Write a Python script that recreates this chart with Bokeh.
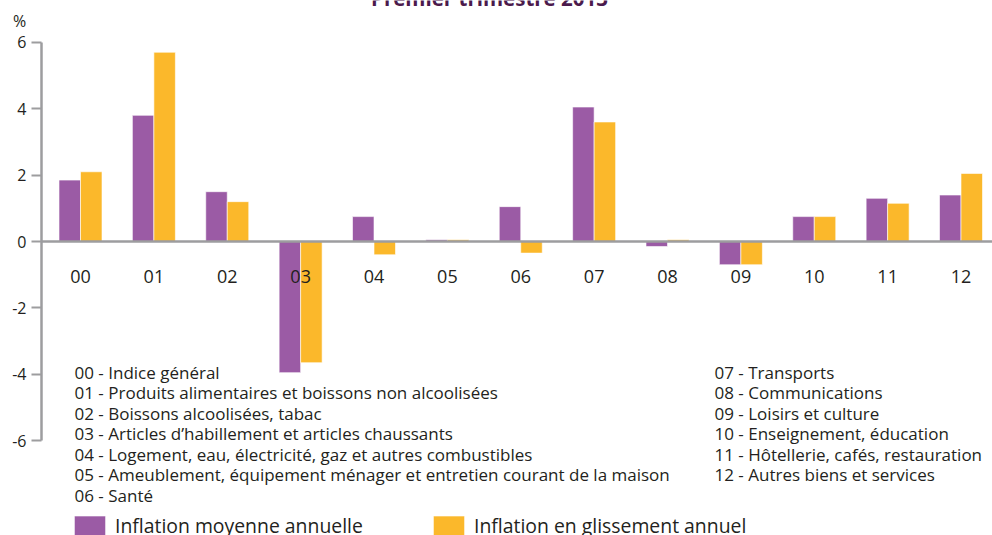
from bokeh.plotting import figure
from bokeh.models import (ColumnDataSource, Range1d, LinearAxis, FixedTicker,
                          Legend, LegendItem, Label)
from bokeh.transform import dodge
from bokeh.core.properties import value
from bokeh.embed import file_html
from bokeh.resources import INLINE

# ---------------- data ----------------
codes = ["00", "01", "02", "03", "04", "05", "06", "07", "08", "09", "10", "11", "12"]
moyenne = [1.85, 3.8, 1.5, -3.95, 0.75, 0.05, 1.05, 4.05, -0.15, -0.7, 0.75, 1.3, 1.4]
glissement = [2.1, 5.7, 1.2, -3.65, -0.4, 0.05, -0.35, 3.6, 0.05, -0.7, 0.75, 1.15, 2.05]
series_names = ["Inflation moyenne annuelle", "Inflation en glissement annuel"]
y_ticks = [-6, -4, -2, 0, 2, 4, 6]
y_tick_labels = ["-6", "-4", "-2", "0", "2", "4", "6"]
left_items = [
    "00 - Indice général",
    "01 - Produits alimentaires et boissons non alcoolisées",
    "02 - Boissons alcoolisées, tabac",
    "03 - Articles d\u2019habillement et articles chaussants",
    "04 - Logement, eau, électricité, gaz et autres combustibles",
    "05 - Ameublement, équipement ménager et entretien courant de la maison",
    "06 - Santé",
]
right_items = [
    "07 - Transports",
    "08 - Communications",
    "09 - Loisirs et culture",
    "10 - Enseignement, éducation",
    "11 - Hôtellerie, cafés, restauration",
    "12 - Autres biens et services",
]
title_text = "Premier trimestre 2013"
unit_text = "%"

# ---------------- style ----------------
PURPLE = "#9b5ba5"
ORANGE = "#fbb82b"
TEXT = "#231f20"
GREY = "#9d9d9f"
TITLE_COL = "#4b1a4c"
FONT = "Open Sans"

W, H = 992, 535
AXIS_X = 41  # pixel column of the vertical axis

# layout helpers (reference pixel -> data coordinate)
X0, XS = 80.0, 73.375
Y0, YS = 241.0, 33.2
def dx(sx):
    return (sx - X0) / XS
def dy(sy):
    return (Y0 - sy) / YS

BAR_W = 21.5 / XS

p = figure(width=W, height=H, output_backend="svg", toolbar_location=None,
           x_range=Range1d(dx(0), dx(W)), y_range=Range1d(dy(H), dy(0)),
           x_axis_location=None, y_axis_location=None,
           min_border_left=0, min_border_right=0, min_border_top=0, min_border_bottom=0,
           outline_line_color=None, background_fill_color="white", border_fill_color="white")
p.xgrid.visible = False
p.ygrid.visible = False

src = ColumnDataSource(dict(x=list(range(len(codes))), code=codes,
                            moy=moyenne, gli=glissement))

r1 = p.vbar(x=dodge("x", -BAR_W / 2), top="moy", bottom=0, width=BAR_W, source=src,
            fill_color=PURPLE, line_color="white", line_width=1, line_alpha=0.6)
r2 = p.vbar(x=dodge("x", BAR_W / 2), top="gli", bottom=0, width=BAR_W, source=src,
            fill_color=ORANGE, line_color="white", line_width=1, line_alpha=0.6)

# vertical value axis, fixed at the left edge of the bar area
yaxis = LinearAxis(ticker=FixedTicker(ticks=y_ticks), bounds=(-6, 6),
                   fixed_location=dx(AXIS_X),
                   major_label_overrides=dict(zip(y_ticks, y_tick_labels)),
                   axis_line_color=GREY, axis_line_width=2.5,
                   major_tick_line_color=GREY, major_tick_line_width=2,
                   major_tick_in=0, major_tick_out=10, minor_tick_line_color=None,
                   major_label_text_font=FONT, major_label_text_font_size="16px",
                   major_label_text_color=TEXT, major_label_standoff=5)
p.add_layout(yaxis, "left")

# horizontal zero axis
xaxis = LinearAxis(ticker=FixedTicker(ticks=[]), bounds=(dx(AXIS_X), dx(W)),
                   fixed_location=0, axis_line_color=GREY, axis_line_width=2.5,
                   major_tick_line_color=None, minor_tick_line_color=None,
                   major_label_text_font_size="0px")
p.add_layout(xaxis, "below")

# category labels
p.text(x="x", y=dy(276), text="code", source=src, text_font=value(FONT),
       text_font_size="18px", text_color=TEXT, text_align="center", text_baseline="middle")

# nomenclature lists
row_y = [dy(371.7 + 20.55 * k) for k in range(7)]
lsrc = ColumnDataSource(dict(x=[dx(74)] * len(left_items), y=row_y[:len(left_items)], t=left_items))
rsrc = ColumnDataSource(dict(x=[dx(714)] * len(right_items), y=row_y[:len(right_items)], t=right_items))
for s in (lsrc, rsrc):
    p.text(x="x", y="y", text="t", source=s, text_font=value(FONT), text_font_size="17px",
           text_color=TEXT, text_align="left", text_baseline="middle")

# title (cut at the top as in the source) and unit
p.add_layout(Label(x=dx(489), y=dy(-3), text=title_text, text_font=FONT, text_font_size="20.5px",
                   text_font_style="bold", text_color=TITLE_COL, text_align="center",
                   text_baseline="alphabetic"))
p.add_layout(Label(x=dx(19), y=dy(20), text=unit_text, text_font=FONT, text_font_size="16px",
                   text_color=TEXT, text_align="center", text_baseline="middle"))

# legends
for name, rend, lx in ((series_names[0], r1, 70), (series_names[1], r2, 429)):
    leg = Legend(items=[LegendItem(label=name, renderers=[rend])], location=(lx, -3.5),
                 orientation="horizontal", glyph_width=39, glyph_height=25,
                 label_text_font=FONT, label_text_font_size="19.4px", label_text_color=TEXT,
                 label_standoff=6, padding=0, margin=0, border_line_color=None,
                 background_fill_alpha=0)
    p.add_layout(leg)

open("out.html", "w").write(file_html(p, INLINE))
